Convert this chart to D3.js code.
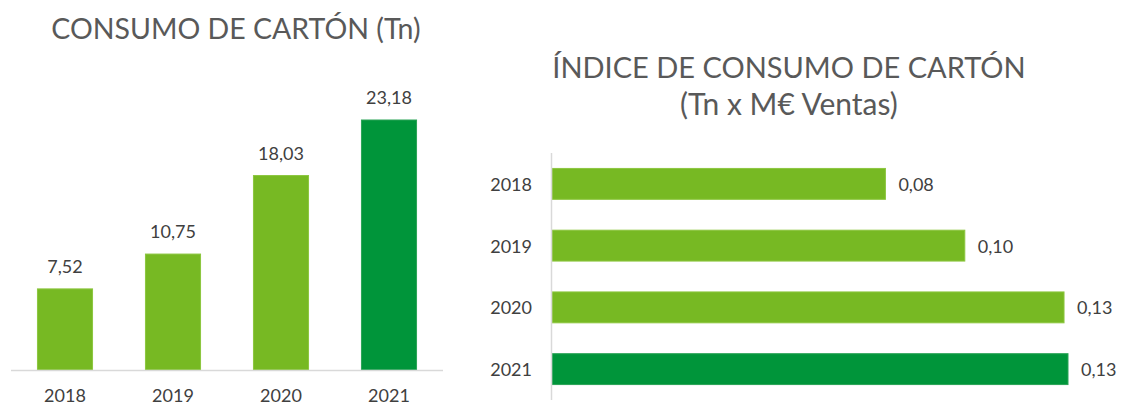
<!DOCTYPE html>
<html lang="es">
<head>
<meta charset="utf-8" />
<title>Consumo de cartón</title>
<script src="https://d3js.org/d3.v7.min.js"></script>
<style>
  body { margin: 0; background: #fff; }
  text { font-family: Lato, "Open Sans", sans-serif; }
</style>
</head>
<body>
<div id="chart"></div>
<script>
    // data
    const years = ["2018", "2019", "2020", "2021"];
    const consumo = [7.52, 10.75, 18.03, 23.18];          // Tn
    const indice = [0.084, 0.104, 0.129, 0.130];           // Tn x M€ ventas
    const titleLeft = "CONSUMO DE CARTÓN (Tn)";
    const titleRight = ["ÍNDICE DE CONSUMO DE CARTÓN", "(Tn x M€ Ventas)"];

    const W = 1129, H = 407;
    const light = "#77b923", dark = "#00953a";
    const barColor = (d, i) => i === years.length - 1 ? dark : light;
    const barStroke = (d, i) => i === years.length - 1 ? "#2aa456" : "#8cc63f";

    const es = d3.formatLocale({decimal: ",", thousands: ".", grouping: [3], currency: ["", "€"]});
    const fmt = es.format(".2f");

    const svg = d3.select("#chart").append("svg")
        .attr("width", W)
        .attr("height", H);

    // ---- left chart: columns
    const left = svg.append("g");

    const x1 = d3.scaleBand()
        .domain(years)
        .range([11, 443])
        .paddingInner(0.49)
        .paddingOuter(0.245);

    const y1 = d3.scaleLinear()
        .domain([0, d3.max(consumo)])
        .range([370, 120]);

    left.append("text")
        .attr("x", 236)
        .attr("y", 39)
        .attr("text-anchor", "middle")
        .style("font-size", "28.5px")
        .style("fill", "#595959")
        .text(titleLeft);

    left.selectAll("rect")
        .data(consumo)
        .join("rect")
        .attr("x", (d, i) => x1(years[i]))
        .attr("y", d => y1(d))
        .attr("width", x1.bandwidth())
        .attr("height", d => y1(0) - y1(d))
        .attr("fill", barColor)
        .attr("stroke", barStroke)
        .attr("stroke-width", 1);

    left.append("line")
        .attr("x1", 11).attr("x2", 443)
        .attr("y1", y1(0) + 0.5).attr("y2", y1(0) + 0.5)
        .attr("stroke", "#d9d9d9")
        .attr("stroke-width", 1.5);

    left.selectAll(".val")
        .data(consumo)
        .join("text")
        .attr("class", "val")
        .attr("x", (d, i) => x1(years[i]) + x1.bandwidth() / 2)
        .attr("y", d => y1(d) - 16)
        .attr("text-anchor", "middle")
        .style("font-size", "18px")
        .style("fill", "#404040")
        .text(d => fmt(d));

    left.selectAll(".cat")
        .data(years)
        .join("text")
        .attr("class", "cat")
        .attr("x", d => x1(d) + x1.bandwidth() / 2)
        .attr("y", 402)
        .attr("text-anchor", "middle")
        .style("font-size", "18px")
        .style("fill", "#404040")
        .text(d => d);

    // ---- right chart: horizontal bars
    const right = svg.append("g");

    const y2 = d3.scaleBand()
        .domain(years)
        .range([153, 400])
        .paddingInner(0.5)
        .paddingOuter(0.25);

    const x2 = d3.scaleLinear()
        .domain([0, d3.max(indice)])
        .range([552, 1068]);

    right.selectAll(".title")
        .data(titleRight)
        .join("text")
        .attr("class", "title")
        .attr("x", 789)
        .attr("y", (d, i) => 78 + i * 37)
        .attr("text-anchor", "middle")
        .style("font-size", (d, i) => i === 0 ? "29px" : "30px")
        .style("fill", "#595959")
        .text(d => d);

    right.selectAll("rect")
        .data(indice)
        .join("rect")
        .attr("x", x2(0))
        .attr("y", (d, i) => y2(years[i]))
        .attr("width", d => x2(d) - x2(0))
        .attr("height", y2.bandwidth())
        .attr("fill", barColor)
        .attr("stroke", barStroke)
        .attr("stroke-width", 1);

    right.append("line")
        .attr("x1", 551.5).attr("x2", 551.5)
        .attr("y1", 153).attr("y2", 400)
        .attr("stroke", "#d9d9d9")
        .attr("stroke-width", 1.5);

    right.selectAll(".val")
        .data(indice)
        .join("text")
        .attr("class", "val")
        .attr("x", d => x2(d) + 13)
        .attr("y", (d, i) => y2(years[i]) + y2.bandwidth() / 2 + 7)
        .style("font-size", "18px")
        .style("fill", "#404040")
        .text(d => fmt(d));

    right.selectAll(".cat")
        .data(years)
        .join("text")
        .attr("class", "cat")
        .attr("x", 532)
        .attr("y", d => y2(d) + y2.bandwidth() / 2 + 7)
        .attr("text-anchor", "end")
        .style("font-size", "18px")
        .style("fill", "#404040")
        .text(d => d);
</script>
</body>
</html>
